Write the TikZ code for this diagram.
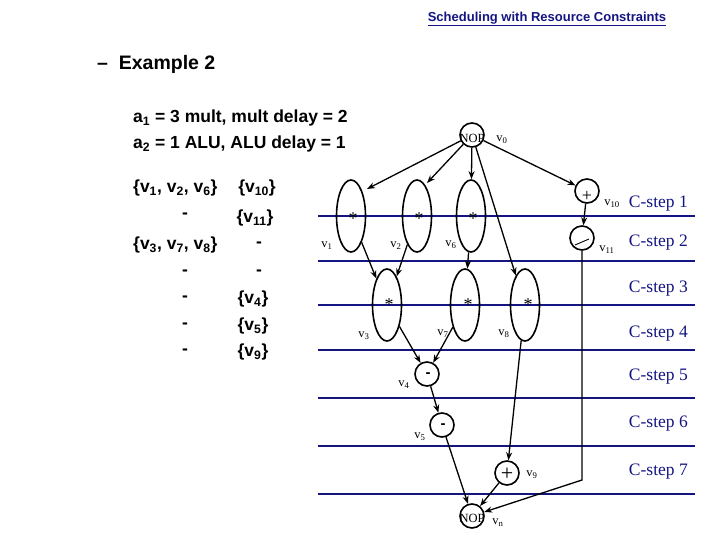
\documentclass[tikz,border=0pt]{standalone}
\usepackage{fontspec}
\setmainfont{Liberation Serif}
\newfontfamily\arial{Liberation Sans}
\usetikzlibrary{arrows.meta,shapes.geometric}
\definecolor{navy}{RGB}{20,20,130}
\begin{document}
\begin{tikzpicture}[x=1pt,y=-1pt,
  op/.style={circle,draw,line width=1.6pt,minimum size=24pt,inner sep=0pt},
  mul/.style={ellipse,draw,line width=1.6pt,minimum width=29pt,minimum height=72pt,inner sep=0pt},
  arr/.style={-{Stealth[length=8pt,width=6pt]},line width=1.3pt},
  lab/.style={font=\fontsize{12.5}{12.5}\selectfont,inner sep=0pt},
  star/.style={font=\fontsize{18}{18}\selectfont,inner sep=0pt},
  minus/.style={font=\arial\bfseries\fontsize{15}{15}\selectfont,inner sep=0pt},
  cstep/.style={navy,font=\fontsize{17.5}{17.5}\selectfont,anchor=east,inner sep=0pt},
  hl/.style={navy,line width=1.5pt},
  tx/.style={font=\arial\bfseries\fontsize{17.5}{17.5}\selectfont,inner sep=0pt}]
\useasboundingbox (0,0) rectangle (720,540);
% title
\node[navy,font=\arial\bfseries\fontsize{13}{13}\selectfont,inner sep=0pt] (title) at (547,19) {\underline{Scheduling with Resource Constraints}};
\node[tx,anchor=west,font=\arial\bfseries\fontsize{19.5}{19.5}\selectfont] (ex) at (97,64) {–\ \ Example 2};
\node[tx,anchor=west] (a1) at (133,118) {a\textsubscript{1} = 3 mult, mult delay = 2};
\node[tx,anchor=west] (a2) at (133,144) {a\textsubscript{2} = 1 ALU, ALU delay = 1};
% table
\node[tx,anchor=west] (r1a) at (133,188) {\{v\textsubscript{1}, v\textsubscript{2}, v\textsubscript{6}\}};
\node[tx] (r1b) at (257,188) {\{v\textsubscript{10}\}};
\node[tx] (r2a) at (185,216) {-};
\node[tx] (r2b) at (255,218) {\{v\textsubscript{11}\}};
\node[tx,anchor=west] (r3a) at (133,245) {\{v\textsubscript{3}, v\textsubscript{7}, v\textsubscript{8}\}};
\node[tx] (r3b) at (259,245) {-};
\node[tx] (r4a) at (185,273) {-};
\node[tx] (r4b) at (259,273) {-};
\node[tx] (r5a) at (185,299) {-};
\node[tx] (r5b) at (253,299) {\{v\textsubscript{4}\}};
\node[tx] (r6a) at (185,326) {-};
\node[tx] (r6b) at (253,326) {\{v\textsubscript{5}\}};
\node[tx] (r7a) at (185,352) {-};
\node[tx] (r7b) at (253,352) {\{v\textsubscript{9}\}};
% c-step lines
\foreach \y in {216,261,305,350,398,446,494} \draw[hl] (318,\y) -- (695,\y);
\node[cstep] (c1) at (688,204) {C-step 1};
\node[cstep] (c2) at (688,243) {C-step 2};
\node[cstep] (c3) at (688,289) {C-step 3};
\node[cstep] (c4) at (688,334) {C-step 4};
\node[cstep] (c5) at (688,377) {C-step 5};
\node[cstep] (c6) at (688,424) {C-step 6};
\node[cstep] (c7) at (688,472) {C-step 7};
% nodes
\node[op] (v0) at (472,135) {};
\node[lab] (nop0) at (472,138) {NOP};
\node[lab] (l0) at (502,140) {v\textsubscript{0}};
\node[mul] (v1) at (351,216) {};
\node[star] (s1) at (353,219) {*};
\node[lab] (l1) at (327,246) {v\textsubscript{1}};
\node[mul] (v2) at (417,216) {};
\node[star] (s2) at (419,219) {*};
\node[lab] (l2) at (396,246) {v\textsubscript{2}};
\node[mul] (v6) at (471,216) {};
\node[star] (s6) at (473,219) {*};
\node[lab] (l6) at (451,245) {v\textsubscript{6}};
\node[op] (v10) at (587,191) {};
\node[lab,font=\fontsize{18}{18}\selectfont] (p10) at (587,196) {+};
\node[lab] (l10) at (612,204) {v\textsubscript{10}};
\node[op] (v11) at (582,238) {};
\draw[line width=0.9pt] (575,245) -- (589,239);
\node[lab] (l11) at (607,250) {v\textsubscript{11}};
\node[mul] (v3) at (387,305) {};
\node[star] (s3) at (389,305) {*};
\node[lab] (l3) at (364,336) {v\textsubscript{3}};
\node[mul] (v7) at (465,305) {};
\node[star] (s7) at (468,305) {*};
\node[lab] (l7) at (443,334) {v\textsubscript{7}};
\node[mul] (v8) at (525,305) {};
\node[star] (s8) at (528,305) {*};
\node[lab] (l8) at (504,334) {v\textsubscript{8}};
\node[op] (v4) at (427,374) {};
\node[minus] (m4) at (428,375) {-};
\node[lab] (l4) at (404,385) {v\textsubscript{4}};
\node[op] (v5) at (442,425) {};
\node[minus] (m5) at (443,426) {-};
\node[lab] (l5) at (420,437) {v\textsubscript{5}};
\node[op] (v9) at (507,473) {};
\node[lab,font=\fontsize{22}{22}\selectfont] (p9) at (507,474) {+};
\node[lab] (l9) at (532,475) {v\textsubscript{9}};
\node[op] (vn) at (472,516) {};
\node[lab] (nopn) at (472,518) {NOP};
\node[lab] (ln) at (498,523) {v\textsubscript{n}};
% edges
\draw[arr] (v0) -- (367,189);
\draw[arr] (v0) -- (427,183);
\draw[arr] (v0) -- (v6);
\draw[arr] (v0) -- (v8);
\draw[arr] (v0) -- (v10);
\draw[arr] (v10) -- (v11);
\coordinate (bend) at (582,480);
\draw[arr] (v11) -- (bend) -- (vn);
\draw[arr] (v1) -- (v3);
\draw[arr] (v2) -- (v3);
\draw[arr] (v6) -- (v7);
\draw[arr] (v3) -- (v4);
\draw[arr] (v7) -- (v4);
\draw[arr] (v4) -- (v5);
\draw[arr] (v5) -- (vn);
\draw[arr] (v8) -- (v9);
\draw[arr] (v9) -- (vn);
\end{tikzpicture}
\end{document}
